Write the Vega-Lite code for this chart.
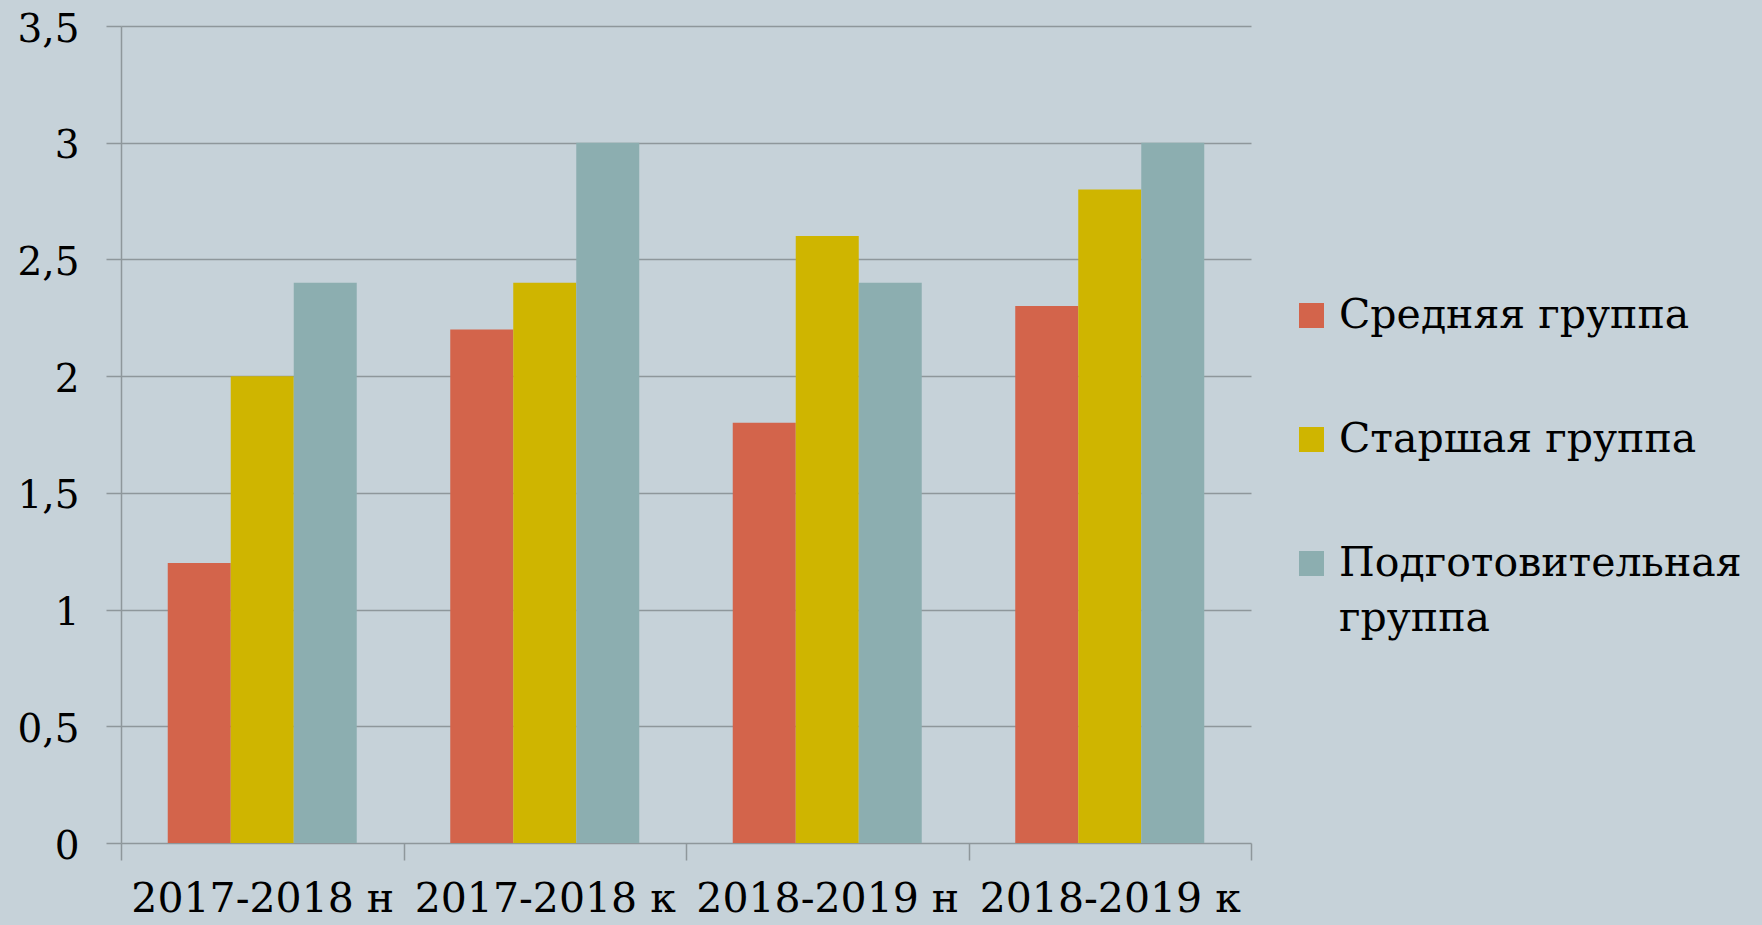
{
  "$schema": "https://vega.github.io/schema/vega-lite/v6.json",
  "width": 1130,
  "height": 817,
  "autosize": {"type": "none"},
  "padding": {"left": 121, "top": 26, "right": 511, "bottom": 82},
  "background": "#C6D2D9",
  "config": {
    "view": {"stroke": null},
    "font": "DejaVu Serif",
    "style": {"guide-label": {"lineHeight": 55}}
  },
  "data": {
    "values": [
      {"period": "2017-2018 н", "group": "Средняя группа", "value": 1.2},
      {"period": "2017-2018 н", "group": "Старшая группа", "value": 2.0},
      {"period": "2017-2018 н", "group": "Подготовительная группа", "value": 2.4},
      {"period": "2017-2018 к", "group": "Средняя группа", "value": 2.2},
      {"period": "2017-2018 к", "group": "Старшая группа", "value": 2.4},
      {"period": "2017-2018 к", "group": "Подготовительная группа", "value": 3.0},
      {"period": "2018-2019 н", "group": "Средняя группа", "value": 1.8},
      {"period": "2018-2019 н", "group": "Старшая группа", "value": 2.6},
      {"period": "2018-2019 н", "group": "Подготовительная группа", "value": 2.4},
      {"period": "2018-2019 к", "group": "Средняя группа", "value": 2.3},
      {"period": "2018-2019 к", "group": "Старшая группа", "value": 2.8},
      {"period": "2018-2019 к", "group": "Подготовительная группа", "value": 3.0}
    ]
  },
  "mark": {"type": "bar"},
  "encoding": {
    "x": {
      "field": "period",
      "type": "nominal",
      "sort": null,
      "scale": {"paddingInner": 0, "paddingOuter": 0},
      "axis": {
        "title": null,
        "labelAngle": 0,
        "tickBand": "extent",
        "domain": false,
        "ticks": true,
        "tickSize": 17,
        "tickColor": "#8E979B",
        "tickWidth": 1.5,
        "labelFontSize": 41,
        "labelColor": "#000000",
        "labelPadding": 19,
        "labelLimit": 0,
        "labelOverlap": false,
        "labelFont": "DejaVu Serif"
      }
    },
    "xOffset": {
      "field": "group",
      "sort": ["Средняя группа", "Старшая группа", "Подготовительная группа"],
      "scale": {"paddingInner": 0, "paddingOuter": 0.742}
    },
    "y": {
      "field": "value",
      "type": "quantitative",
      "scale": {"domain": [0, 3.5], "nice": false},
      "axis": {
        "title": null,
        "values": [0, 0.5, 1, 1.5, 2, 2.5, 3, 3.5],
        "labelExpr": "replace(toString(datum.value), '.', ',')",
        "grid": true,
        "gridColor": "#8E979B",
        "gridWidth": 1.5,
        "domain": true,
        "domainColor": "#8E979B",
        "domainWidth": 1.5,
        "tickSize": 15,
        "tickColor": "#8E979B",
        "tickWidth": 1.5,
        "labelFontSize": 39,
        "labelColor": "#000000",
        "labelPadding": 27,
        "labelOffset": 3,
        "labelFont": "DejaVu Serif"
      }
    },
    "color": {
      "field": "group",
      "type": "nominal",
      "sort": ["Средняя группа", "Старшая группа", "Подготовительная группа"],
      "scale": {
        "domain": ["Средняя группа", "Старшая группа", "Подготовительная группа"],
        "range": ["#D3644B", "#CFB500", "#8CAEB0"]
      },
      "legend": {
        "title": null,
        "orient": "none",
        "legendX": 1170,
        "legendY": 269,
        "symbolType": "square",
        "symbolSize": 625,
        "symbolStrokeWidth": 0,
        "labelFontSize": 41,
        "labelFont": "DejaVu Serif",
        "labelColor": "#000000",
        "labelOffset": 7,
        "labelLimit": 600,
        "rowPadding": 82,
        "labelExpr": "datum.label == 'Подготовительная группа' ? ['Подготовительная', 'группа'] : datum.label"
      }
    }
  }
}
